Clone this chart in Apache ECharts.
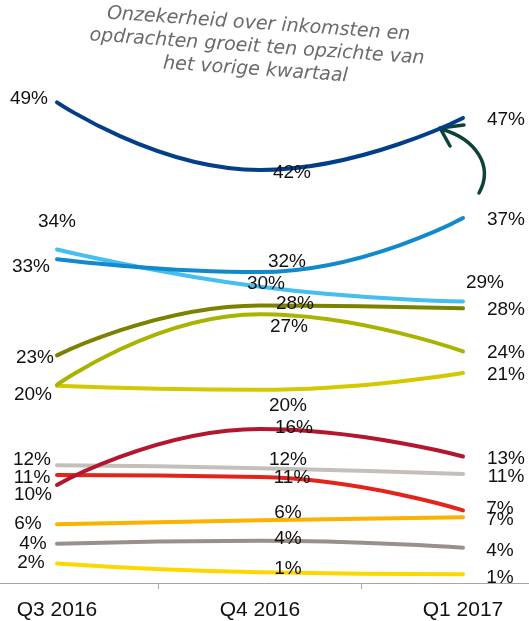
<!DOCTYPE html>
<html><head><meta charset="utf-8">
<script src="https://cdn.jsdelivr.net/npm/echarts@6/dist/echarts.min.js"></script>
<style>html,body{margin:0;padding:0;background:#fff}#c{width:529px;height:621px}</style>
</head><body><div id="c"></div>
<script>
// Data
const categories = ['Q3 2016', 'Q4 2016', 'Q1 2017'];
const navyVals      = [49.0, 42.1, 47.4];
const blueVals      = [33.0, 31.7, 37.2];
const lightBlueVals = [34.0, 30.2, 28.7];
const oliveVals     = [23.2, 28.3, 28.0];
const limeVals      = [20.2, 27.4, 23.6];
const mustardVals   = [20.1, 19.7, 21.4];
const darkRedVals   = [10.0, 15.7, 12.9];
const greyVals      = [12.0, 11.7, 11.1];
const redVals       = [11.0, 10.8, 7.4];
const orangeVals    = [6.0, 6.4, 6.7];
const taupeVals     = [4.0, 4.3, 3.6];
const yellowVals    = [2.0, 1.1, 0.9];
const noteText = 'Onzekerheid over inkomsten en\nopdrachten groeit ten opzichte van\nhet vorige kwartaal';

// Label placement (offsets from each point, px); null = label coincides with another and is not repeated
const layout = {
  navy:      [[-28, -3], [32, 3], [43, 2]],
  blue:      [[-26, 8], [27, -10], [43, 2]],
  lightBlue: [[0, -27], [6, -2], [22, -18]],
  olive:     [[-22, 3], [35, -1], [43, 2]],
  lime:      [null, [29, 13], [43, 2]],
  mustard:   [[-24, 9], [28, 17], [43, 2]],
  darkRed:   [[-24, 10], [34, -1], [43, 3]],
  grey:      [[-25, -5], [28, -8], [43, 3]],
  red:       [[-25, 3], [32, 1], [37, -1]],
  orange:    [[-29, 0], [28, -7], [37, 3]],
  taupe:     [[-24, 1], [28, -2], [37, 4]],
  yellow:    [[-26, 0], [28, -3], [37, 4]]
};

const font = "'Liberation Sans', Arial, sans-serif";

function mk(name, vals, color, offs) {
  return {
    type: 'line', name: name, smooth: 0.5, clip: false,
    data: vals.map((v, i) => ({
      value: v,
      label: offs[i] ? { offset: offs[i] } : { show: false }
    })),
    symbol: 'circle', symbolSize: 1, itemStyle: { color: 'rgba(0,0,0,0)' },
    lineStyle: { color: color, width: 4, cap: 'round' },
    emphasis: { disabled: true },
    label: {
      show: true, position: 'top', distance: 0, align: 'center', verticalAlign: 'middle',
      color: '#111', fontSize: 19, fontFamily: font,
      formatter: p => Math.round(p.value) + '%'
    }
  };
}

const chart = echarts.init(document.getElementById('c'), null, { renderer: 'canvas' });
chart.setOption({
  animation: false,
  backgroundColor: '#fff',
  grid: { left: -44.5, right: -35.5, top: 92.5, bottom: 38, containLabel: false, outerBoundsMode: 'none' },
  xAxis: {
    type: 'category', data: categories, boundaryGap: true,
    axisLine: { lineStyle: { color: '#a6a6a6', width: 1 } },
    axisTick: { show: true, length: 6, lineStyle: { color: '#a6a6a6' } },
    axisLabel: { fontSize: 21, color: '#111', margin: 17, fontFamily: font }
  },
  yAxis: { type: 'value', min: 0, max: 50, show: false, splitLine: { show: false } },
  series: [
    mk('yellow', yellowVals, '#ffd700', layout.yellow),
    mk('taupe', taupeVals, '#9a8f8b', layout.taupe),
    mk('orange', orangeVals, '#fbb200', layout.orange),
    mk('red', redVals, '#e3241b', layout.red),
    mk('grey', greyVals, '#c4bfbb', layout.grey),
    mk('darkRed', darkRedVals, '#b3162e', layout.darkRed),
    mk('mustard', mustardVals, '#d4c800', layout.mustard),
    mk('lime', limeVals, '#a8b400', layout.lime),
    mk('olive', oliveVals, '#7b8200', layout.olive),
    mk('lightBlue', lightBlueVals, '#44bff0', layout.lightBlue),
    mk('blue', blueVals, '#1189ca', layout.blue),
    mk('navy', navyVals, '#023f88', layout.navy)
  ],
  graphic: [
    {
      type: 'text', x: 257, y: 47, rotation: -4 * Math.PI / 180,
      style: {
        text: noteText, fill: '#6b6b6b', font: "italic 19px 'DejaVu Sans', sans-serif",
        align: 'center', verticalAlign: 'middle', lineHeight: 23
      }
    },
    {
      type: 'bezierCurve',
      shape: { x1: 479, y1: 193, cpx1: 494, cpy1: 166, cpx2: 476, cpy2: 139, x2: 441, y2: 129 },
      style: { stroke: '#0e4239', lineWidth: 3.5, fill: null, lineCap: 'round' }
    },
    {
      type: 'polyline',
      shape: { points: [[464, 125], [440, 128], [450, 146]] },
      style: { stroke: '#0e4239', lineWidth: 3.5, fill: null, lineCap: 'round', lineJoin: 'round' }
    }
  ]
});
</script>
</body></html>
